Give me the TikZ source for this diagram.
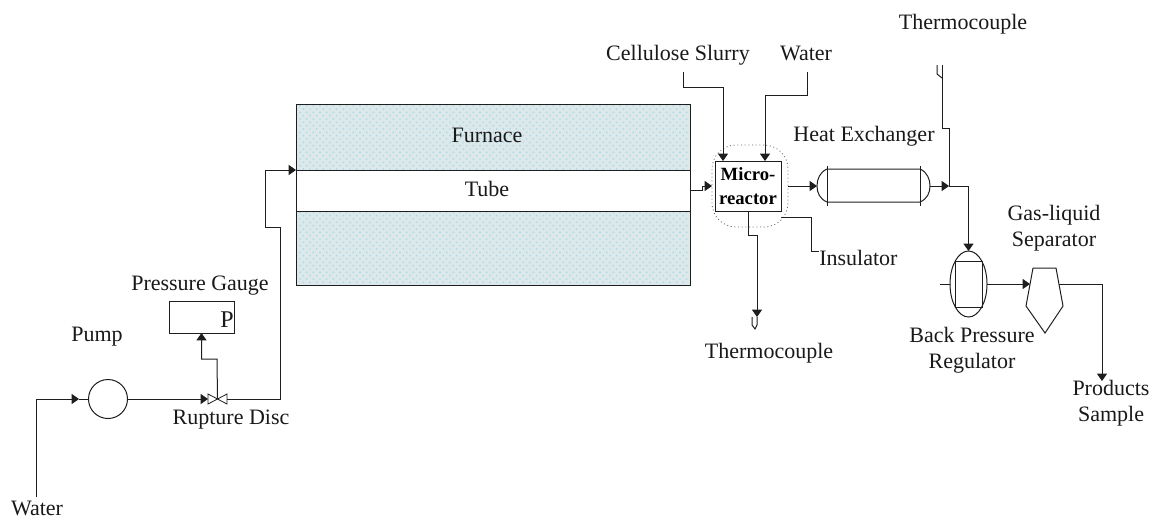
\documentclass[tikz,border=0pt]{standalone}
\usepackage{fontspec}
\setmainfont{Liberation Serif}
\usetikzlibrary{arrows.meta,patterns.meta,shapes.geometric,calc}
\definecolor{linec}{HTML}{1E1E1E}
\definecolor{furnbase}{HTML}{DDE8EB}
\definecolor{furndot}{HTML}{A8DAEA}
\tikzset{
  lbl/.style={font=\fontsize{16.5}{19.3}\selectfont,inner sep=0pt,align=center,text=black!90},
  pipe/.style={line width=0.75pt,draw=linec},
  flow/.style={pipe,-{Triangle[length=5.5pt,width=7.5pt]}},
  boxn/.style={draw=linec,line width=0.75pt,inner sep=0pt,outer sep=0pt,rectangle},
  ghost/.style={inner sep=0pt,outer sep=0pt,rectangle},
  furn/.style={boxn,fill=furnbase,minimum width=394*0.75pt},
}
\begin{document}
\begin{tikzpicture}[x=0.75pt,y=-0.75pt]
\useasboundingbox (0,0) rectangle (1152,519);
% furnace
\node[furn,minimum height=66*0.75pt] (furntop) at (493,137) {};
\node[furn,minimum height=74*0.75pt] (furnbot) at (493,248) {};
\foreach \n in {furntop,furnbot}{
  \path[pattern={Dots[distance=5pt,radius=0.7pt]},pattern color=furndot]
    ($(\n.north west)+(1,1)$) rectangle ($(\n.south east)+(-1,-1)$);
  \path[pattern={Dots[distance=5pt,radius=0.7pt,xshift=2.5pt,yshift=2.5pt]},pattern color=furndot]
    ($(\n.north west)+(1,1)$) rectangle ($(\n.south east)+(-1,-1)$);
}
\node[boxn,fill=white,minimum width=394*0.75pt,minimum height=41*0.75pt] (tube) at (493,190.5) {};
\node[lbl] (furnlbl) at (487,135) {Furnace};
\node[lbl] (tubelbl) at (487,189) {Tube};
% pump, valve, gauge
\node[boxn,circle,minimum size=39*0.75pt] (pump) at (108,399) {};
\node[ghost,minimum width=19*0.75pt,minimum height=10*0.75pt] (valve) at (217.5,399) {};
\draw[pipe,line width=0.6pt] (valve.north west) -- (valve.south east) -- (valve.north east) -- (valve.south west) -- cycle;
\node[boxn,minimum width=65*0.75pt,minimum height=32*0.75pt] (gauge) at (201.5,317) {};
\node[lbl,font=\fontsize{18}{20}\selectfont] (plbl) at (227,320) {P};
% microreactor
\node[boxn,dotted,draw=black!60,line width=0.6pt,rounded corners=18pt,minimum width=76*0.75pt,minimum height=82*0.75pt] (ins) at (750,186) {};
\node[boxn,minimum width=66*0.75pt,minimum height=50*0.75pt,font=\fontsize{14}{17.5}\selectfont\bfseries,align=center] (micro) at (748,186) {Micro-\\reactor};
% heat exchanger
\node[ghost,minimum width=113*0.75pt,minimum height=33*0.75pt] (he) at (873.5,186) {};
\draw[pipe] (827,169) -- (920,169) .. controls (927,172) and (930,179) .. (he.east) .. controls (930,193) and (927,199) .. (920,202) -- (827,202) .. controls (820,199) and (817,193) .. (he.west) .. controls (817,179) and (820,172) .. (827,169);
\draw[pipe] (827,166) -- (827,206);
\draw[pipe] (920,166) -- (920,206);
% back pressure regulator
\node[boxn,ellipse,minimum width=37*0.75pt,minimum height=66*0.75pt] (bpr) at (968.5,284) {};
\node[boxn,minimum width=27*0.75pt,minimum height=46*0.75pt] (bprin) at (968.5,284) {};
% separator
\coordinate (sepin) at (1030,284);
\coordinate (sepout) at (1059,284);
\draw[pipe] (1033,268) -- (1056,268) -- (1063,306) -- (1045,333) -- (1026,306) -- cycle;
% labels
\node[lbl] (lthermotop) at (963,24) {Thermocouple};
\node[lbl] (lslurry) at (678,55) {Cellulose Slurry};
\node[lbl] (lwater2) at (806,53) {Water};
\node[lbl] (lhe) at (864,136) {Heat Exchanger};
\node[lbl] (lsep) at (1054,228) {Gas-liquid\\Separator};
\node[lbl,anchor=west] (lins) at (819,258) {Insulator};
\node[lbl] (lthermobot) at (769,353) {Thermocouple};
\node[lbl] (lbpr) at (972,350) {Back Pressure\\Regulator};
\node[lbl] (lprod) at (1111,403) {Products\\Sample};
\node[lbl] (lgauge) at (200,286) {Pressure Gauge};
\node[lbl] (lpump) at (97,337) {Pump};
\node[lbl] (lrupt) at (231,420) {Rupture Disc};
\node[lbl] (lwater) at (37,508) {Water};
% connectors
\coordinate (wstart) at (36,497);
\coordinate (wa) at (79,399);
\draw[flow] (wstart) |- (wa);
\draw[pipe] (wa) -- (pump.west);
\draw[flow] (pump.east) -- (valve.west);
\draw[flow] (valve.center) -- (217,359) -- (201.5,359) -- (gauge.south);
\coordinate (up1) at (280,227);
\coordinate (up2) at (265,227);
\draw[flow] (valve.east) -| (up1) -- (up2) |- (tube.north west);
\coordinate (t1) at (702,190.5);
\coordinate (t2) at (702,186);
\draw[flow] (tube.east) -- (t1) -- (t2) -- (ins.west);
\coordinate (cs0) at (683,72);
\coordinate (cs1) at (683,87);
\coordinate (cs2) at (723,87);
\draw[flow] (cs0) -- (cs1) -- (cs2) -- (cs2 |- micro.north);
\coordinate (w0) at (807,72);
\coordinate (w1) at (807,95);
\coordinate (w2) at (765,95);
\draw[flow] (w0) -- (w1) -- (w2) -- (w2 |- micro.north);
\draw[flow] (ins.east) -- (he.west);
\coordinate (j) at (949,186);
\draw[flow] (he.east) -- (j);
\draw[flow] (j) -| (bpr.north);
\coordinate (tc0) at (942,65);
\coordinate (tc1) at (942,128);
\coordinate (tc2) at (949,128);
\draw[pipe] (tc0) -- (tc1) -- (tc2) -- (j);
\coordinate (tc3) at (937,65);
\coordinate (tc4) at (937,74);
\draw[pipe] (tc3) -- (tc4) -- (tc0 |- 0,78);
\coordinate (ins0) at (781,217);
\coordinate (ins1) at (811,217);
\coordinate (ins2) at (811,251);
\draw[pipe] (ins0) -- (ins1) -- (ins2) -- (819,251);
\coordinate (m1) at (748,235);
\coordinate (m2) at (757,235);
\coordinate (m3) at (757,317);
\draw[flow] (micro.south) -- (m1) -- (m2) -- (m3);
\draw[pipe] (m3) -- (757,325) -- (755,329) -- (752,325) -- (752,317);
\coordinate (bl) at (940,284);
\draw[pipe] (bl) -- (bpr.west);
\draw[flow] (bpr.east) -- (sepin);
\coordinate (pr) at (1102,381);
\draw[flow] (sepout) -| (pr);
\end{tikzpicture}
\end{document}
